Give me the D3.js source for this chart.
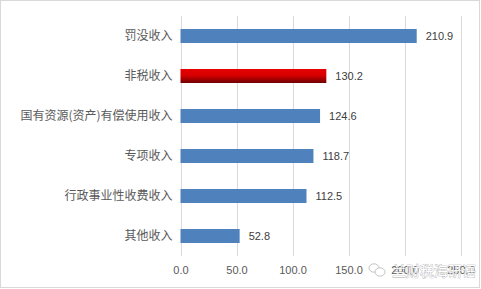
<!DOCTYPE html>
<html><head><meta charset="utf-8">
<script src="https://cdn.jsdelivr.net/npm/d3@7"></script>
<style>body{margin:0;background:#fff;}svg{display:block;}</style>
</head><body>
<svg id="c" width="481" height="289"></svg>
<script>
const categories = ["罚没收入","非税收入","国有资源(资产)有偿使用收入","专项收入","行政事业性收费收入","其他收入"];
const values = [210.9,130.2,124.6,118.7,112.5,52.8];
const highlight = ["非税收入"];
const xTicks = [0,50,100,150,200,250];
const watermark = "兰财税海研语";

const svg = d3.select("#c");
svg.append("rect").attr("x",0.5).attr("y",0.5).attr("width",479).attr("height",287)
  .attr("fill","#fff").attr("stroke","#d9d9d9");

const defs = svg.append("defs");
const g1 = defs.append("linearGradient").attr("id","red").attr("x1",0).attr("y1",0).attr("x2",0).attr("y2",1);
g1.append("stop").attr("offset","0%").attr("stop-color","#e60000");
g1.append("stop").attr("offset","45%").attr("stop-color","#d80000");
g1.append("stop").attr("offset","100%").attr("stop-color","#6e0000");

const x = d3.scaleLinear().domain([0,250]).range([180.5,460.5]);
const y = d3.scaleBand().domain(categories).range([16,256]).paddingInner(0.65).paddingOuter(0.325);

const grid = svg.append("g");
grid.selectAll("line").data(xTicks).join("line")
  .attr("x1",d=>Math.round(x(d))+0.5).attr("x2",d=>Math.round(x(d))+0.5)
  .attr("y1",16).attr("y2",256).attr("stroke","#d9d9d9").attr("stroke-width",1);

svg.append("g").selectAll("rect").data(categories).join("rect")
  .attr("x",x(0)).attr("y",d=>y(d)).attr("height",y.bandwidth())
  .attr("width",(d,i)=>x(values[i])-x(0))
  .attr("fill",d=>highlight.includes(d)?"url(#red)":"#4f81bd");

svg.append("g").selectAll("text").data(categories).join("text")
  .attr("x",(d,i)=>x(values[i])+9).attr("y",d=>y(d)+y.bandwidth()/2)
  .attr("dy","0.35em").attr("font-family","Liberation Sans, Arial, sans-serif")
  .attr("font-size",11).attr("fill","#404040")
  .text((d,i)=>values[i].toFixed(1));

const yAxis = svg.append("g").attr("transform",`translate(${x(0)-8},0)`)
  .call(d3.axisLeft(y).tickSize(0).tickPadding(0));
yAxis.select(".domain").remove();
yAxis.selectAll("text").attr("font-family","Noto Sans CJK SC, sans-serif").attr("font-size",12).attr("fill","#595959");

const xAxis = svg.append("g").attr("transform","translate(0,266)")
  .call(d3.axisBottom(x).tickValues(xTicks).tickFormat(d3.format(".1f")).tickSize(0).tickPadding(0));
xAxis.select(".domain").remove();
xAxis.selectAll("text").attr("font-family","Liberation Sans, Arial, sans-serif").attr("font-size",11).attr("fill","#595959").attr("dy","0.71em");

// watermark
const wm = svg.append("g").attr("opacity",0.85);
wm.append("ellipse").attr("cx",374).attr("cy",268).attr("rx",5).attr("ry",4.2).attr("fill","#fff").attr("stroke","#aaa").attr("stroke-width",0.8);
wm.append("ellipse").attr("cx",380).attr("cy",272).attr("rx",5).attr("ry",4.2).attr("fill","#fff").attr("stroke","#aaa").attr("stroke-width",0.8);
wm.append("text").attr("x",392).attr("y",276).attr("font-family","Noto Sans CJK SC, sans-serif").attr("font-size",14)
  .attr("fill","#fff").attr("stroke","#999").attr("stroke-width",0.7).attr("paint-order","stroke").text(watermark);
</script>
</body></html>
